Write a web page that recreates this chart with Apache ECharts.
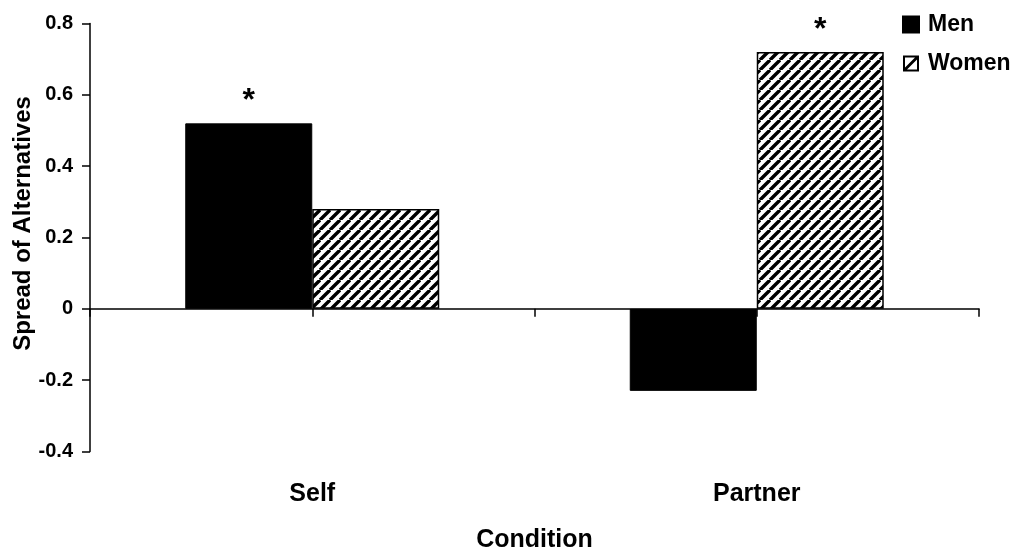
<!DOCTYPE html>
<html>
    <head>
        <meta charset="utf-8">
        <script src="https://cdn.jsdelivr.net/npm/echarts@6/dist/echarts.min.js"></script>
        <style>
            body { margin: 0; background: #fff; }
            #main { width: 1028px; height: 548px; }
        </style>
    </head>
    <body>
        <div id="main"></div>
        <script>
            const categories = ['Self', 'Partner'];
            const menValues = [0.52, -0.23];
            const womenValues = [0.28, 0.72];
            // which bars carry a significance star
            const menStars = [true, false];
            const womenStars = [false, true];
            const yTicks = { min: -0.4, max: 0.8, interval: 0.2 };

            // diagonal hatch for the Women bars
            function hatch() {
                const c = document.createElement('canvas');
                const s = 10;
                c.width = s;
                c.height = s;
                const ctx = c.getContext('2d');
                ctx.fillStyle = '#fff';
                ctx.fillRect(0, 0, s, s);
                ctx.strokeStyle = '#000';
                ctx.lineWidth = 3.4;
                ctx.beginPath();
                for (let k = -1; k <= 1; k++) {
                    ctx.moveTo(k * s, s);
                    ctx.lineTo(k * s + s, 0);
                }
                ctx.stroke();
                return c;
            }
            const hatchColor = { image: hatch(), repeat: 'repeat' };

            // framed square with one diagonal, like the old spreadsheet key
            const womenIcon = 'path://M0,0 L16,0 L16,16 L0,16 Z M2,2 L2,14 L14,14 L14,2 Z ' +
                'M2,12 L12,2 L14,2 L14,4 L4,14 L2,14 Z';

            const font = '"Liberation Sans", Arial, sans-serif';

            function withStars(values, stars) {
                return values.map(function (v, i) {
                    return {
                        value: v,
                        label: { show: stars[i] }
                    };
                });
            }

            const starLabel = {
                show: false,
                position: 'top',
                distance: 6,
                formatter: '*',
                color: '#000',
                fontSize: 32,
                fontWeight: 'bold',
                fontFamily: font
            };

            const chart = echarts.init(document.getElementById('main'));
            chart.setOption({
                animation: false,
                backgroundColor: '#fff',
                grid: { left: 90, right: 49, top: 23.5, bottom: 96.5, outerBoundsMode: 'none' },
                legend: {
                    orient: 'vertical',
                    left: 897,
                    top: 7,
                    icon: 'rect',
                    itemWidth: 16,
                    itemHeight: 16,
                    itemGap: 14,
                    textStyle: {
                        fontSize: 23,
                        lineHeight: 25,
                        fontWeight: 'bold',
                        fontFamily: font,
                        color: '#000',
                        padding: [0, 0, 0, 4]
                    },
                    data: [
                        { name: 'Men' },
                        { name: 'Women', icon: womenIcon, itemStyle: { color: '#000', borderWidth: 0 } }
                    ]
                },
                xAxis: [{
                    type: 'category',
                    position: 'bottom',
                    data: categories,
                    axisLine: { show: false, onZero: false },
                    axisTick: { show: false },
                    axisLabel: {
                        margin: 30,
                        fontSize: 25,
                        fontWeight: 'bold',
                        fontFamily: font,
                        color: '#000'
                    },
                    name: 'Condition',
                    nameLocation: 'middle',
                    nameGap: 76,
                    nameMoveOverlap: false,
                    nameTextStyle: {
                        fontSize: 25,
                        fontWeight: 'bold',
                        fontFamily: font,
                        color: '#000'
                    }
                }, {
                    // zero line with ticks at each half category
                    type: 'category',
                    position: 'bottom',
                    data: ['', '', '', ''],
                    axisLine: { show: true, onZero: true, lineStyle: { color: '#000', width: 1.5 } },
                    axisTick: { show: true, length: 8, lineStyle: { color: '#000', width: 1.5 } },
                    axisLabel: { show: false }
                }],
                yAxis: {
                    type: 'value',
                    min: yTicks.min,
                    max: yTicks.max,
                    interval: yTicks.interval,
                    splitLine: { show: false },
                    axisLine: { show: true, lineStyle: { color: '#000', width: 1.5 } },
                    axisTick: { show: true, length: 8, lineStyle: { color: '#000', width: 1.5 } },
                    axisLabel: {
                        margin: 17,
                        fontSize: 20,
                        fontWeight: 'bold',
                        fontFamily: font,
                        color: '#000',
                        formatter: function (v) {
                            return v === 0 ? '0' : String(Math.round(v * 10) / 10);
                        }
                    },
                    name: 'Spread of Alternatives',
                    nameLocation: 'middle',
                    nameRotate: 90,
                    nameGap: 55,
                    nameMoveOverlap: false,
                    nameTextStyle: {
                        fontSize: 24,
                        fontWeight: 'bold',
                        fontFamily: font,
                        color: '#000',
                        padding: [0, 0, 0, 28]
                    }
                },
                series: [{
                    name: 'Men',
                    type: 'bar',
                    xAxisIndex: 0,
                    barWidth: 127,
                    barGap: '0%',
                    itemStyle: { color: '#000', borderColor: '#000', borderWidth: 1 },
                    label: starLabel,
                    data: withStars(menValues, menStars)
                }, {
                    name: 'Women',
                    type: 'bar',
                    xAxisIndex: 0,
                    barWidth: 127,
                    barGap: '0%',
                    itemStyle: { color: hatchColor, borderColor: '#000', borderWidth: 1.5 },
                    label: starLabel,
                    data: withStars(womenValues, womenStars)
                }]
            });
        </script>
    </body>
</html>
